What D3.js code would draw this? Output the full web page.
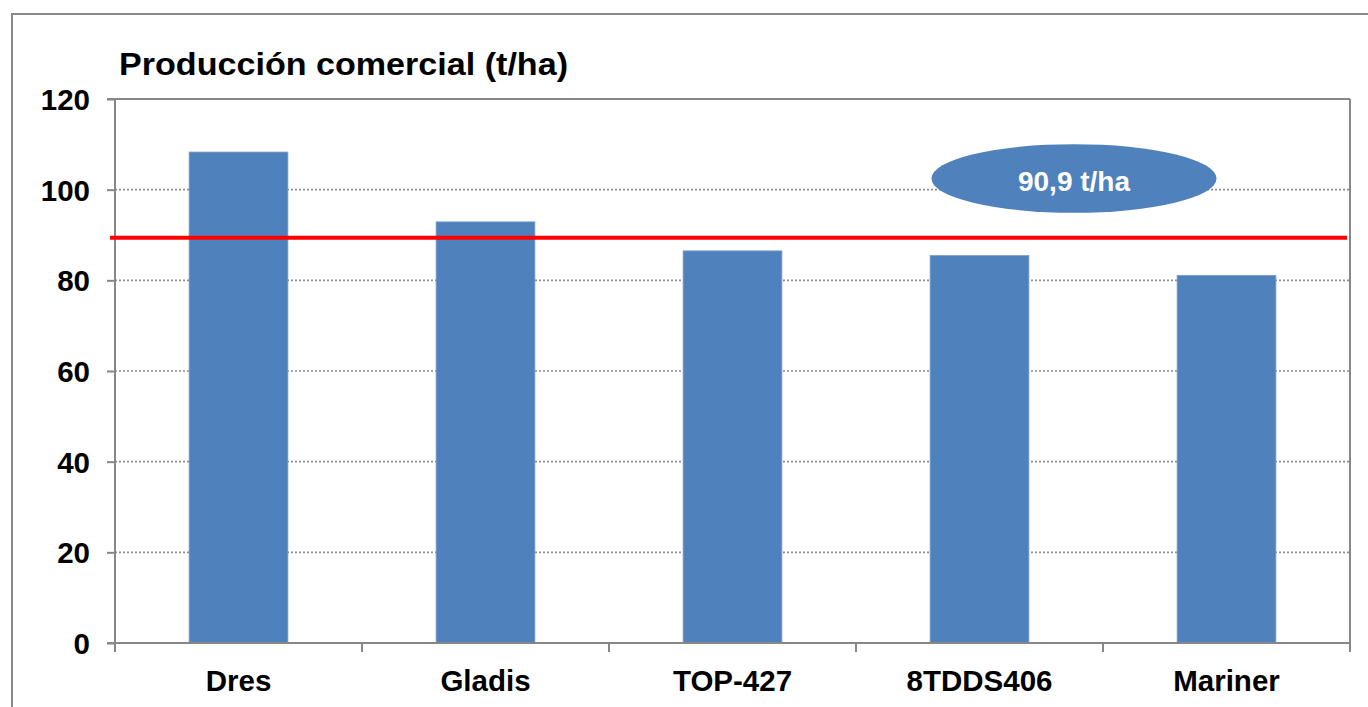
<!DOCTYPE html>
<html>
<head>
<meta charset="utf-8">
<script src="https://cdn.jsdelivr.net/npm/d3@7"></script>
<style>
html,body{margin:0;padding:0;background:#fff;}
svg{display:block;}
text{font-family:"Liberation Sans",Arial,sans-serif;font-weight:bold;}
</style>
</head>
<body>
<svg id="chart" width="1368" height="707"></svg>
<script>
const categories = ["Dres", "Gladis", "TOP-427", "8TDDS406", "Mariner"];
const values = [108.3, 92.9, 86.5, 85.5, 81.1];
const yTicks = [0, 20, 40, 60, 80, 100, 120];
const meanLineValue = 89.4;
const meanLabel = "90,9 t/ha";
const titleText = "Producción comercial (t/ha)";

(function () {
const svg = d3.select("#chart");
const pLeft = 115, pRight = 1350, pTop = 99, pBottom = 643;
const axisColor = "#878787";

// outer chart border
svg.append("rect").attr("x", 12).attr("y", 14).attr("width", 1400).attr("height", 760)
  .attr("fill", "none").attr("stroke", "#8a8a8a").attr("stroke-width", 2);

const x = d3.scaleBand().domain(categories).range([pLeft, pRight]).padding(0);
const y = d3.scaleLinear().domain([0, 120]).range([pBottom, pTop]);

// gridlines
svg.append("g").selectAll("line").data(yTicks.filter(t => t > 0 && t < 120)).join("line")
  .attr("x1", pLeft).attr("x2", pRight)
  .attr("y1", d => y(d)).attr("y2", d => y(d))
  .attr("stroke", "#8c8c8c").attr("stroke-width", 1.6).attr("stroke-dasharray", "2 2");

// plot border top & right
svg.append("line").attr("x1", pLeft).attr("x2", pRight).attr("y1", y(120)).attr("y2", y(120))
  .attr("stroke", axisColor).attr("stroke-width", 2);
svg.append("line").attr("x1", pRight).attr("x2", pRight).attr("y1", y(120)).attr("y2", y(0))
  .attr("stroke", axisColor).attr("stroke-width", 2);

// bars
const bw = x.bandwidth() * 0.4;
svg.append("g").selectAll("rect").data(categories).join("rect")
  .attr("x", d => x(d) + (x.bandwidth() - bw) / 2)
  .attr("y", (d, i) => y(values[i]))
  .attr("width", bw)
  .attr("height", (d, i) => y(0) - y(values[i]))
  .attr("fill", "#4F81BD").attr("stroke", "#7da0cf").attr("stroke-width", 0.8);

// y axis
const yAxis = d3.axisLeft(y).tickValues(yTicks).tickSize(8).tickPadding(17).tickFormat(d3.format("d"));
const gy = svg.append("g").attr("transform", `translate(${pLeft},0)`).call(yAxis);
gy.select(".domain").attr("stroke", axisColor).attr("stroke-width", 2).attr("d", `M-8,${pTop}H0V${pBottom + 9}`);
gy.selectAll(".tick line").attr("stroke", axisColor).attr("stroke-width", 2);
gy.selectAll(".tick text").attr("fill", "#000").style("font-size", "29.5px").attr("dy", "0.36em");

// x axis
const gx = svg.append("g").attr("transform", `translate(0,${pBottom})`);
gx.append("line").attr("x1", pLeft - 8).attr("x2", pRight).attr("y1", 0).attr("y2", 0)
  .attr("stroke", axisColor).attr("stroke-width", 2);
const boundaries = categories.map(c => x(c)).concat([pRight]);
gx.selectAll("line.tk").data(boundaries).join("line").attr("class", "tk")
  .attr("x1", d => d).attr("x2", d => d).attr("y1", 0).attr("y2", 9)
  .attr("stroke", axisColor).attr("stroke-width", 2);
gx.selectAll("text").data(categories).join("text")
  .attr("x", d => x(d) + x.bandwidth() / 2).attr("y", 48)
  .attr("text-anchor", "middle").style("font-size", "29.5px").attr("fill", "#000")
  .text(d => d);

// mean line
svg.append("line").attr("x1", 110).attr("x2", 1347)
  .attr("y1", y(meanLineValue)).attr("y2", y(meanLineValue))
  .attr("stroke", "#ff0000").attr("stroke-width", 4);

// ellipse label
svg.append("ellipse").attr("cx", 1074).attr("cy", 178.5).attr("rx", 142.5).attr("ry", 34.3)
  .attr("fill", "#4F81BD");
svg.append("text").attr("x", 1074).attr("y", 190.5).attr("text-anchor", "middle")
  .attr("fill", "#fff").style("font-size", "28px").text(meanLabel);

// title
svg.append("text").attr("x", 119).attr("y", 75).style("font-size", "32px").attr("fill", "#000")
  .attr("textLength", 449).attr("lengthAdjust", "spacingAndGlyphs")
  .text(titleText);
})();
</script>
</body>
</html>
